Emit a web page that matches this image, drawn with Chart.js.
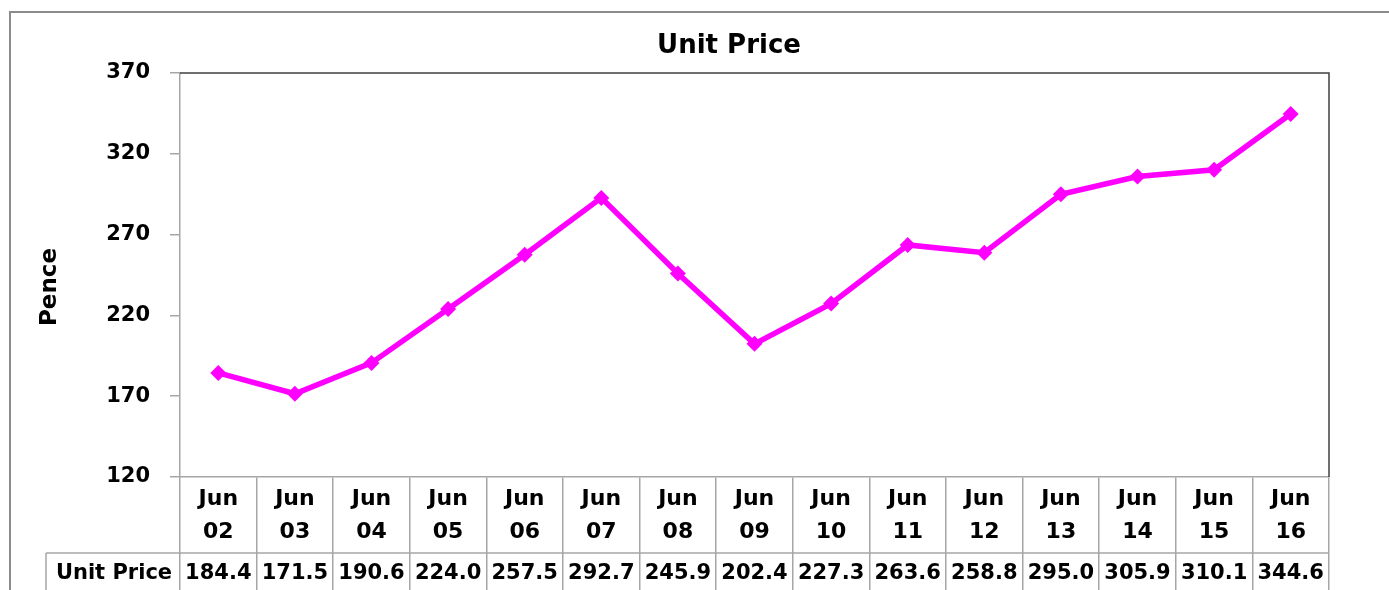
<!DOCTYPE html>
<html>
<head>
<meta charset="utf-8">
<script src="https://cdn.jsdelivr.net/npm/chart.js@4/dist/chart.umd.min.js"></script>
<style>
  html, body { margin: 0; padding: 0; background: #fff; overflow: hidden; }
  #wrap { position: relative; width: 1389px; height: 590px; }
</style>
</head>
<body>
<div id="wrap"><canvas id="priceChart" width="1389" height="590"></canvas></div>
<script>
/* ============ DATOS ============ */

const months = ["02", "03", "04", "05", "06", "07", "08", "09", "10", "11", "12", "13", "14", "15", "16"];
const unitPrice = [184.4, 171.5, 190.6, 224.0, 257.5, 292.7, 245.9, 202.4, 227.3, 263.6, 258.8, 295.0, 305.9, 310.1, 344.6];
const yTicks = [120, 170, 220, 270, 320, 370];
const seriesName = "Unit Price";
const chartTitle = "Unit Price";
const yTitle = "Pence";

const FONT = "'DejaVu Sans', Verdana, sans-serif";
const GRID = "#a6a6a6";

/* ============ PLUGIN: marco, títulos y tabla de datos ============ */

const tablaPlugin = {
    id: "tablaDatos",
    beforeDraw(chart) {
        const ctx = chart.ctx;
        ctx.save();
        ctx.strokeStyle = "#8c8c8c";
        ctx.lineWidth = 2;
        ctx.strokeRect(10, 12, 1500, 700);
        ctx.restore();
    },
    afterDraw(chart) {
        const ctx = chart.ctx;
        const area = chart.chartArea;
        const x = chart.scales.x;
        const rowTop = 553;

        ctx.save();
        // título (centrado sobre el gráfico completo, más ancho que la ventana)
        ctx.fillStyle = "#000";
        ctx.textAlign = "center";
        ctx.textBaseline = "middle";
        ctx.font = "bold 26px " + FONT;
        ctx.fillText(chartTitle, 729, 46);

        // título del eje Y
        ctx.save();
        ctx.translate(50, 287);
        ctx.rotate(-Math.PI / 2);
        ctx.font = "bold 23px " + FONT;
        ctx.fillText(yTitle, 0, 0);
        ctx.restore();

        // borde superior y derecho del área de trazado
        ctx.strokeStyle = "#404040";
        ctx.lineWidth = 1.5;
        ctx.beginPath();
        ctx.moveTo(area.left, area.top);
        ctx.lineTo(area.right, area.top);
        ctx.lineTo(area.right, area.bottom);
        ctx.stroke();

        // fila de la tabla
        ctx.strokeStyle = GRID;
        ctx.beginPath();
        ctx.moveTo(46, rowTop);
        ctx.lineTo(area.right, rowTop);
        ctx.moveTo(46, rowTop);
        ctx.lineTo(46, 600);
        ctx.stroke();

        ctx.font = "bold 21px " + FONT;
        ctx.fillText(seriesName, (46 + area.left) / 2 + 1, 574);
        unitPrice.forEach((v, i) => {
            ctx.fillText(v.toFixed(1), x.getPixelForValue(i), 574);
        });
        ctx.restore();
    }
};

/* ============ GRÁFICO ============ */

new Chart(document.getElementById("priceChart"), {
    type: "line",
    data: {
        labels: months.map(m => ["Jun", m]),
        datasets: [{
            label: seriesName,
            data: unitPrice,
            borderColor: "#ff00ff",
            backgroundColor: "#ff00ff",
            borderWidth: 5.5,
            tension: 0,
            pointStyle: "rectRot",
            pointRadius: 8,
            pointBorderWidth: 0,
            pointBackgroundColor: "#ff00ff"
        }]
    },
    options: {
        responsive: false,
        animation: false,
        layout: { padding: { top: 73, right: 60, bottom: 0, left: 0 } },
        plugins: {
            legend: { display: false },
            tooltip: { enabled: false },
            title: { display: false }
        },
        scales: {
            x: {
                offset: true,
                afterFit: s => { s.height = 113; },
                border: { color: GRID, width: 1.5 },
                grid: {
                    offset: true,
                    drawOnChartArea: false,
                    tickLength: 113,
                    color: GRID,
                    lineWidth: 1.5
                },
                ticks: {
                    color: "#000",
                    padding: -107,
                    maxRotation: 0,
                    autoSkip: false,
                    font: { family: FONT, size: 22, weight: "bold", lineHeight: 1.5 }
                }
            },
            y: {
                min: 120,
                max: 370,
                afterFit: s => { s.width = 180; },
                afterBuildTicks: s => { s.ticks = yTicks.map(v => ({ value: v })); },
                border: { color: GRID, width: 1.5 },
                grid: {
                    drawOnChartArea: false,
                    tickLength: 10,
                    color: GRID,
                    lineWidth: 1.5
                },
                ticks: {
                    color: "#000",
                    padding: 20,
                    font: { family: FONT, size: 21, weight: "bold" }
                }
            }
        }
    },
    plugins: [tablaPlugin]
});
</script>
</body>
</html>
